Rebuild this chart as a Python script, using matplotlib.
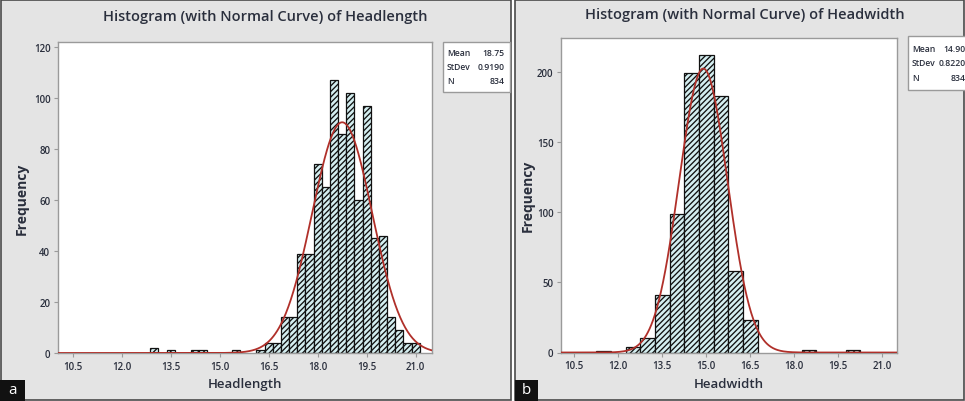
import numpy as np
import matplotlib
matplotlib.use("Agg")
import matplotlib.pyplot as plt
from matplotlib.patches import Rectangle

# ---------------- data ----------------
hl_centers = [13.0, 13.5, 14.25, 14.5, 15.5, 16.25, 16.5, 16.75, 17.0, 17.25, 17.5, 17.75,
              18.0, 18.25, 18.5, 18.75, 19.0, 19.25, 19.5, 19.75, 20.0, 20.25, 20.5, 20.75, 21.0]
hl_counts = [2, 1, 1, 1, 1, 1, 4, 4, 14, 14, 39, 39,
             74, 65, 107, 86, 102, 60, 97, 45, 46, 14, 9, 4, 4]
hl_binw = 0.25
hl_mean, hl_sd, hl_n = 18.75, 0.9190, 834

hw_centers = [11.5, 12.5, 13.0, 13.5, 14.0, 14.5, 15.0, 15.5, 16.0, 16.5, 18.5, 20.0]
hw_counts = [1, 4, 10, 41, 99, 199, 212, 183, 58, 23, 2, 2]
hw_binw = 0.5
hw_mean, hw_sd, hw_n = 14.90, 0.8220, 834

xticks = [10.5, 12.0, 13.5, 15.0, 16.5, 18.0, 19.5, 21.0]
hl_yticks = [0, 20, 40, 60, 80, 100, 120]
hw_yticks = [0, 50, 100, 150, 200]

# ---------------- styling ----------------
plt.rcParams['font.family'] = ['Open Sans', 'DejaVu Sans']
plt.rcParams['hatch.linewidth'] = 0.95
W, H = 965, 402
fig = plt.figure(figsize=(W / 100, H / 100), dpi=100)
fig.patch.set_facecolor('white')

PANEL_BG = '#e4e4e4'
BAR_FILL = '#d4eef0'
CURVE = '#b0302a'
TXT = '#2a2f3d'


def fx(px):
    return px / W


def fy(py):
    return 1 - py / H


# panel backgrounds
for (x0, x1) in [(1, 511), (515, 964)]:
    fig.patches.append(Rectangle((fx(x0), fy(401)), fx(x1 - x0), 400 / H,
                                 transform=fig.transFigure, facecolor=PANEL_BG,
                                 edgecolor='#4a4a4a', linewidth=1.2, zorder=-5))


def panel(rect, centers, counts, binw, mean, sd, n, yticks, ylim, title, xlabel,
          title_x, title_y, leg_box, leg_val_x, row_offs, ylab_x):
    ax = fig.add_axes(rect)
    ax.set_zorder(2)
    ax.set_facecolor('white')
    ax.bar(centers, counts, width=binw, facecolor=BAR_FILL, edgecolor='#111111',
           linewidth=0.9, hatch='//////', zorder=2)
    xs = np.linspace(10.05, 21.5, 600)
    ys = n * binw * np.exp(-0.5 * ((xs - mean) / sd) ** 2) / (sd * np.sqrt(2 * np.pi))
    ax.plot(xs, ys, color=CURVE, linewidth=1.3, zorder=3)
    ax.set_xlim(10.05, 21.5)
    ax.set_ylim(0, ylim)
    ax.set_xticks(xticks)
    ax.set_xticklabels([f"{t:.1f}" for t in xticks])
    ax.set_yticks(yticks)
    for s in ax.spines.values():
        s.set_color('#9a9a9a')
        s.set_linewidth(1.0)
    ax.tick_params(axis='both', direction='out', length=3, width=0.8, color='#9a9a9a',
                   labelsize=7, labelcolor=TXT, pad=2.5)
    for lab in ax.get_xticklabels() + ax.get_yticklabels():
        lab.set_fontweight('semibold')
    ax.set_ylabel('Frequency', fontsize=10, fontweight='bold', color=TXT)
    ax.yaxis.set_label_coords(ylab_x, 0.5)
    ax.set_xlabel(xlabel, fontsize=9.5, fontweight='semibold', color=TXT, labelpad=4)
    fig.text(fx(title_x), fy(title_y), title, ha='center', va='center', fontsize=10.5,
             fontweight='semibold', color=TXT)
    # stats box
    bx0, by0, bx1, by1 = leg_box
    fig.patches.append(Rectangle((fx(bx0), fy(by1)), fx(bx1 - bx0), (by1 - by0) / H,
                                 transform=fig.transFigure, facecolor='white',
                                 edgecolor='#9a9a9a', linewidth=1.0, zorder=1))
    rows = [('Mean', f"{mean:.2f}"), ('StDev', f"{sd:.4f}"), ('N', f"{n}")]
    for (k, v), off in zip(rows, row_offs):
        yy = by0 + off
        fig.text(fx(bx0 + 4), fy(yy), k, ha='left', va='center', fontsize=6.2,
                 color=TXT, fontweight='semibold')
        fig.text(fx(leg_val_x), fy(yy), v, ha='right', va='center', fontsize=6.2,
                 color=TXT, fontweight='semibold')
    return ax


panel([fx(58), fy(354), fx(374), 311 / H], hl_centers, hl_counts, hl_binw,
      hl_mean, hl_sd, hl_n, hl_yticks, 122,
      'Histogram (with Normal Curve) of Headlength', 'Headlength', 265, 17,
      (443, 43, 510, 93), 505, (11, 24, 39), (29 - 58) / 374)

panel([fx(561), fy(353.5), fx(336), 315 / H], hw_centers, hw_counts, hw_binw,
      hw_mean, hw_sd, hw_n, hw_yticks, 224.5,
      'Histogram (with Normal Curve) of Headwidth', 'Headwidth', 745, 15,
      (908, 37, 975, 91), 966, (13, 26, 42), (535 - 561) / 336)

# panel letters
for (x0, x1, lab) in [(0, 25, 'a'), (515, 538, 'b')]:
    fig.patches.append(Rectangle((fx(x0), 0), fx(x1 - x0), 21 / H,
                                 transform=fig.transFigure, facecolor='#111111',
                                 edgecolor='none', zorder=5))
    fig.text(fx((x0 + x1) / 2), fy(391), lab, ha='center', va='center', fontsize=11,
             color='white', zorder=6)

fig.savefig('out.png', dpi=100)
